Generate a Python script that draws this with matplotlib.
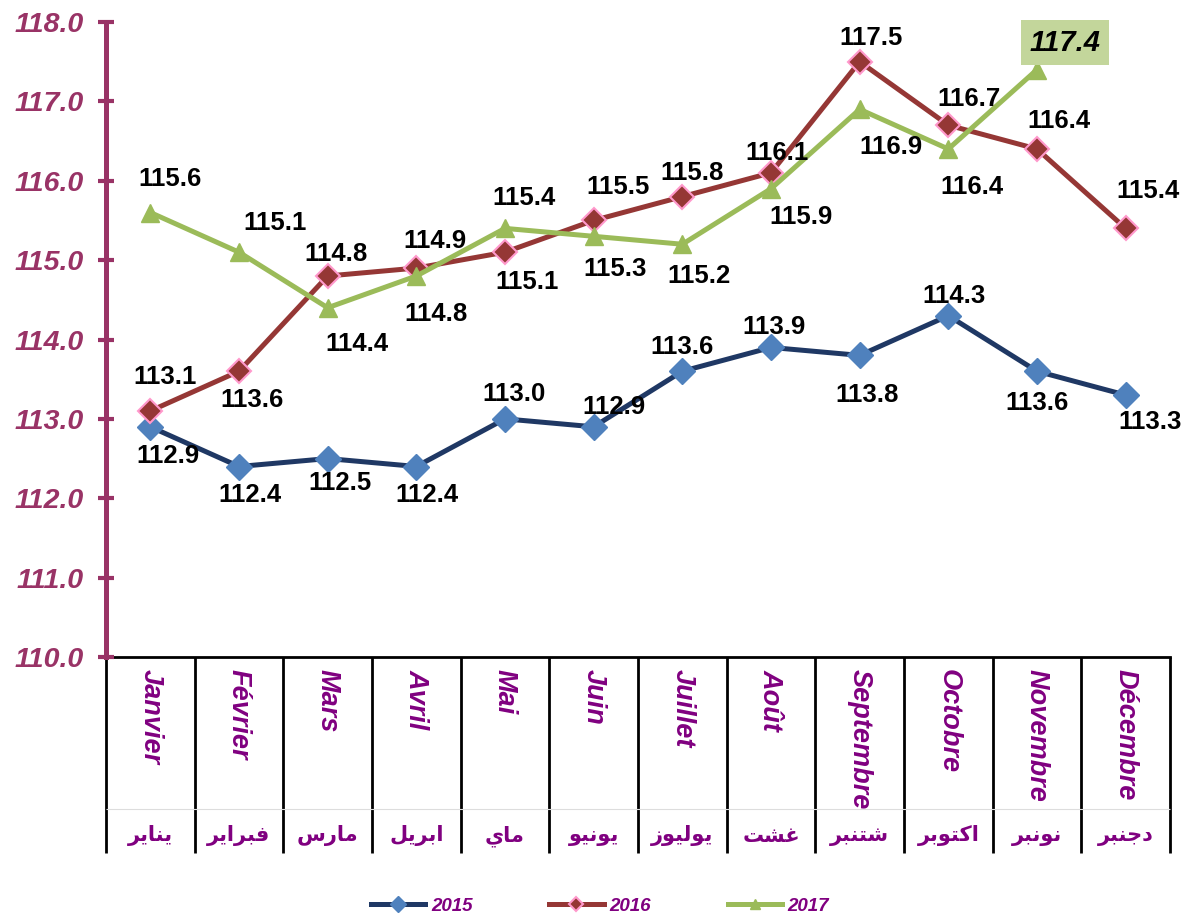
import numpy as np
import matplotlib.pyplot as plt
import matplotlib.transforms as mtransforms

# data
mois_fr = ["Janvier", "Février", "Mars", "Avril", "Mai", "Juin", "Juillet",
           "Août", "Septembre", "Octobre", "Novembre", "Décembre"]
mois_ar = ["يناير", "فبراير", "مارس", "ابريل", "ماي", "يونيو", "يوليوز",
           "غشت", "شتنبر", "اكتوبر", "نونبر", "دجنبر"]
v2015 = [112.9, 112.4, 112.5, 112.4, 113.0, 112.9, 113.6, 113.9, 113.8, 114.3, 113.6, 113.3]
v2016 = [113.1, 113.6, 114.8, 114.9, 115.1, 115.5, 115.8, 116.1, 117.5, 116.7, 116.4, 115.4]
v2017 = [115.6, 115.1, 114.4, 114.8, 115.4, 115.3, 115.2, 115.9, 116.9, 116.4, 117.4]
yticks = [110, 111, 112, 113, 114, 115, 116, 117, 118]

# label offsets from the point, in pixels (dx right, dy down)
off2015 = [(18, 29), (11, 28), (12, 24), (11, 28), (9, -25), (20, -20),
           (0, -24), (3, -20), (7, 40), (6, -20), (0, 32), (24, 27)]
off2016 = [(15, -34), (13, 29), (8, -22), (19, -27), (22, 30), (24, -33),
           (10, -24), (6, -20), (11, -24), (21, -26), (22, -28), (22, -37)]
off2017 = [(20, -33), (36, -29), (29, 36), (20, 38), (19, -30), (21, 33),
           (17, 32), (30, 28), (31, 38), (24, 38), (28, -27)]

# arabic shaping (matplotlib has no text shaping): presentation forms
# iso, final, initial, medial
FORMS = {
    'ا': ('\uFE8D', '\uFE8E', None, None),
    'ب': ('\uFE8F', '\uFE90', '\uFE91', '\uFE92'),
    'ت': ('\uFE95', '\uFE96', '\uFE97', '\uFE98'),
    'ج': ('\uFE9D', '\uFE9E', '\uFE9F', '\uFEA0'),
    'د': ('\uFEA9', '\uFEAA', None, None),
    'ر': ('\uFEAD', '\uFEAE', None, None),
    'ز': ('\uFEAF', '\uFEB0', None, None),
    'س': ('\uFEB1', '\uFEB2', '\uFEB3', '\uFEB4'),
    'ش': ('\uFEB5', '\uFEB6', '\uFEB7', '\uFEB8'),
    'غ': ('\uFECD', '\uFECE', '\uFECF', '\uFED0'),
    'ف': ('\uFED1', '\uFED2', '\uFED3', '\uFED4'),
    'ك': ('\uFED9', '\uFEDA', '\uFEDB', '\uFEDC'),
    'ل': ('\uFEDD', '\uFEDE', '\uFEDF', '\uFEE0'),
    'م': ('\uFEE1', '\uFEE2', '\uFEE3', '\uFEE4'),
    'ن': ('\uFEE5', '\uFEE6', '\uFEE7', '\uFEE8'),
    'و': ('\uFEED', '\uFEEE', None, None),
    'ي': ('\uFEF1', '\uFEF2', '\uFEF3', '\uFEF4'),
}


def shape_ar(word):
    out = []
    n = len(word)
    for i, c in enumerate(word):
        f = FORMS[c]
        dual = f[2] is not None
        prev = i > 0 and FORMS[word[i - 1]][2] is not None
        nxt = i < n - 1 and dual
        if prev and nxt:
            out.append(f[3])
        elif prev:
            out.append(f[1])
        elif nxt:
            out.append(f[2])
        else:
            out.append(f[0])
    return ''.join(out[::-1])


plt.rcParams['font.family'] = ['Liberation Sans', 'DejaVu Sans']
purple = '#800080'
axcol = '#993366'
px = 0.72  # points per pixel at 100 dpi

fig = plt.figure(figsize=(11.88, 9.18), dpi=100)
ax = fig.add_axes([106 / 1188, 1 - 657 / 918, (1170 - 106) / 1188, (657 - 22) / 918])

x = np.arange(12)
l1, = ax.plot(x, v2015, color='#1F3864', lw=3.6, marker='D', ms=13,
              mfc='#4F81BD', mec='#4F81BD', zorder=3)
l2, = ax.plot(x, v2016, color='#953735', lw=3.6, marker='D', ms=12,
              mfc='#953735', mec='#FF99CC', mew=1.5, zorder=4)
l3, = ax.plot(x[:11], v2017, color='#9BBB59', lw=3.6, marker='^', ms=13,
              mfc='#9BBB59', mec='#9BBB59', zorder=5)

for vals, offs in [(v2015, off2015), (v2016, off2016), (v2017[:10], off2017[:10])]:
    for i, (v, (dx, dy)) in enumerate(zip(vals, offs)):
        ax.annotate("%.1f" % v, (i, v), xytext=(dx * px, -dy * px),
                    textcoords='offset points', ha='center', va='center',
                    fontsize=18.5, fontweight='bold', color='black', zorder=6)

dx, dy = off2017[10]
ax.annotate("%.1f" % v2017[10], (10, v2017[10]), xytext=(dx * px, -dy * px),
            textcoords='offset points', ha='center', va='center', fontsize=21,
            fontweight='bold', fontstyle='italic', color='black', zorder=6,
            bbox=dict(boxstyle='square,pad=0.28', fc='#C3D69B', ec='none'))

ax.set_xlim(-0.5, 11.5)
ax.set_ylim(110, 118)
ax.set_yticks(yticks)
ax.set_yticklabels(["%.1f" % t for t in yticks], fontsize=20.5, fontweight='bold',
                   fontstyle='italic', color=axcol)
ax.tick_params(axis='y', direction='inout', length=12, width=3, color=axcol, pad=10)
ax.set_xticks([])
for s in ['top', 'right']:
    ax.spines[s].set_visible(False)
ax.spines['left'].set_color(axcol)
ax.spines['left'].set_linewidth(3.6)
ax.spines['bottom'].set_color('black')
ax.spines['bottom'].set_linewidth(2)
ax.spines['bottom'].set_zorder(1)

# table of months under the axis
trans = mtransforms.blended_transform_factory(ax.transData, ax.transAxes)
h = 635.0
ax.vlines(np.arange(13) - 0.5, -(853 - 657) / h, 0, colors='black', lw=2,
          transform=trans, clip_on=False)
ax.hlines(-(809 - 657) / h, -0.5, 11.5, colors='#DDDDDD', lw=0.8,
          transform=trans, clip_on=False)
for i in range(12):
    ax.text(i, -(669 - 657) / h, mois_fr[i], transform=trans, rotation=270,
            ha='center', va='top', fontsize=19.5, fontweight='bold',
            fontstyle='italic', color=purple)
    # DejaVu Sans bold has the arabic forms, its oblique face does not
    ax.text(i, -(836 - 657) / h, shape_ar(mois_ar[i]), transform=trans,
            ha='center', va='center', fontsize=15, fontweight='bold',
            family=['DejaVu Sans'], color=purple)

leg = fig.legend([l1, l2, l3], ['2015', '2016', '2017'], loc='center',
                 bbox_to_anchor=(600 / 1188, 1 - 906 / 918), ncol=3, frameon=False,
                 handlelength=2.9, columnspacing=4.1, handletextpad=0.3,
                 markerscale=0.6, prop=dict(size=13.5, weight='bold', style='italic'))
for t in leg.get_texts():
    t.set_color(purple)

fig.savefig('out.png', dpi=100)
